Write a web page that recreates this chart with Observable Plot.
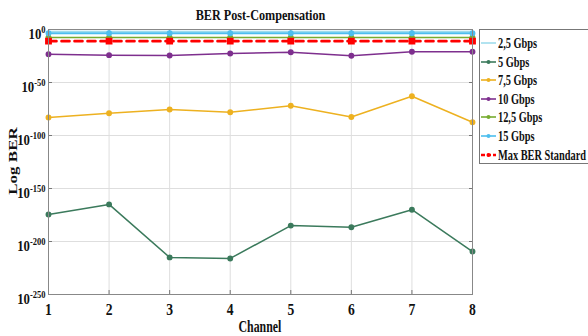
<!DOCTYPE html>
<html>
<head>
<meta charset="utf-8">
<script src="https://cdn.jsdelivr.net/npm/d3@7"></script>
<script src="https://cdn.jsdelivr.net/npm/@observablehq/plot@0.6"></script>
<style>
  html, body { margin: 0; padding: 0; background: #fff; }
  #wrap { position: relative; width: 588px; height: 336px; overflow: hidden; font-family: "Liberation Serif", "Times New Roman", serif; font-weight: bold; color: #111; }
  #wrap > svg { position: absolute; left: 0; top: 0; }
  .sq { display: inline-block; white-space: nowrap; }
  #title { position: absolute; left: 0; width: 520px; top: 8px; text-align: center; font-size: 14px; line-height: 16px; }
  #title .sq { transform: scaleX(0.87); transform-origin: center; }
  #xlabel { position: absolute; left: 0; width: 520px; top: 318px; text-align: center; font-size: 16px; line-height: 18px; }
  #xlabel .sq { transform: scaleX(0.74); transform-origin: center; }
  #ylabel { position: absolute; left: 13px; top: 161px; font-size: 17px; line-height: 18px; transform: translate(-50%, -50%) scaleX(0.78) rotate(-90deg); white-space: nowrap; }
  #legend { position: absolute; left: 479px; top: 29px; width: 130px; height: 133px; border: 1px solid #777; background: #fff; }
  .item { position: absolute; left: 1px; height: 18px; font-size: 15px; line-height: 18px; white-space: nowrap; }
  .item svg { vertical-align: middle; }
  .item .sq { transform: scaleX(0.69); transform-origin: left center; vertical-align: middle; margin-left: 2px; }
</style>
</head>
<body>
<div id="wrap">
  <div id="title"><span class="sq">BER Post-Compensation</span></div>
  <div id="xlabel"><span class="sq">Channel</span></div>
  <div id="ylabel">Log BER</div>
  <div id="legend"></div>
</div>
<script>
const channels = [1, 2, 3, 4, 5, 6, 7, 8];
const seriesNames = ["2,5 Gbps", "5 Gbps", "7,5 Gbps", "10 Gbps", "12,5 Gbps", "15 Gbps", "Max BER Standard"];
const seriesColors = ["#9fdcec", "#3b7a5c", "#EDB120", "#7E2F8E", "#77AC30", "#4DBEEE", "#ff0000"];
// log10(BER) per channel
const ber2_5 = [-2, -2, -2, -2, -2, -2, -2, -2];
const ber5 = [-174.5, -165, -215, -216, -185, -186.5, -170, -209.5];
const ber7_5 = [-83, -79, -75.5, -78, -72, -82.5, -63, -87.5];
const ber10 = [-23.3, -24.2, -24.5, -22.6, -21.4, -24.8, -21, -21];
const ber12_5 = [-7.5, -7.5, -7.5, -7.5, -7.5, -7.5, -7.5, -7.5];
const ber15 = [-3.5, -3.5, -3.5, -3.5, -3.5, -3.5, -3.5, -3.5];
const maxBer = [-11, -11, -11, -11, -11, -11, -11, -11];
const yTicks = [0, -50, -100, -150, -200, -250];

const seriesValues = [ber2_5, ber5, ber7_5, ber10, ber12_5, ber15, maxBer];
const rows = [];
seriesNames.forEach((s, k) => channels.forEach((c, i) => rows.push({series: s, channel: c, logber: seriesValues[k][i]})));

const lineMarks = [];
seriesNames.forEach((s, k) => {
  const d = rows.filter(r => r.series === s);
  const isMax = s === "Max BER Standard";
  lineMarks.push(Plot.line(d, {x: "channel", y: "logber", stroke: "series",
    strokeWidth: isMax ? 2.6 : (s === "15 Gbps" ? 2 : 1.5),
    strokeDasharray: isMax ? "8,5" : null}));
  if (s !== "2,5 Gbps") {
    lineMarks.push(Plot.dot(d, {x: "channel", y: "logber", fill: "series", stroke: "series", r: isMax ? 3 : 2.2, symbol: isMax ? "square" : "circle"}));
  }
});

const chart = Plot.plot({
  width: 588,
  height: 336,
  marginLeft: 48,
  marginRight: 116,
  marginTop: 29,
  marginBottom: 42,
  style: {fontFamily: "'Liberation Serif', 'Times New Roman', serif", fontWeight: "bold", fontSize: "15px", color: "#111", background: "transparent"},
  x: {domain: [1, 8]},
  y: {domain: [-250, 0]},
  color: {domain: seriesNames, range: seriesColors},
  marks: [
    Plot.gridX(channels, {stroke: "#dedede", strokeOpacity: 1}),
    Plot.gridY(yTicks, {stroke: "#dedede", strokeOpacity: 1}),
    Plot.axisX({ticks: channels, tickSize: -4, tickPadding: 13, tickFormat: d => String(d), label: null, stroke: "#777", fontSize: 16}),
    Plot.axisX({anchor: "top", ticks: channels, tickSize: -4, tickFormat: () => "", label: null, stroke: "#777"}),
    Plot.axisY({ticks: yTicks, tickSize: -4, tickPadding: 7, tickFormat: d => String(d), label: null, stroke: "#777", fontSize: 15}),
    Plot.axisY({anchor: "right", ticks: yTicks, tickSize: -4, tickFormat: () => "", label: null, stroke: "#777"}),
    ...lineMarks,
    Plot.frame({stroke: "#888"})
  ]
});
document.getElementById("wrap").prepend(chart);

// superscript exponent tick labels
chart.querySelectorAll('g[aria-label="y-axis tick label"] text').forEach(t => {
  const e = t.textContent.replace("−", "-");
  if (!e) return;
  t.textContent = "";
  const b = document.createElementNS("http://www.w3.org/2000/svg", "tspan");
  b.textContent = "10";
  b.setAttribute("dy", "0.3em");
  const s = document.createElementNS("http://www.w3.org/2000/svg", "tspan");
  s.textContent = e;
  s.setAttribute("dy", "-0.55em");
  s.setAttribute("font-size", "10px");
  t.appendChild(b); t.appendChild(s);
});
// condensed look of the reference lettering
chart.querySelectorAll('g[aria-label="y-axis tick label"] text, g[aria-label="x-axis tick label"] text').forEach(t => {
  const tr = t.getAttribute("transform");
  if (tr) t.setAttribute("transform", tr + " scale(0.85,1)");
});

// legend
const legend = document.getElementById("legend");
seriesNames.forEach((s, k) => {
  const item = document.createElement("div");
  item.className = "item";
  item.style.top = (2.5 + k * 18.6) + "px";
  const isMax = s === "Max BER Standard";
  const sw = d3.create("svg").attr("width", 15).attr("height", 10);
  sw.append("line").attr("x1", 0).attr("x2", 15).attr("y1", 5).attr("y2", 5)
    .attr("stroke", seriesColors[k]).attr("stroke-width", isMax ? 2.4 : 1.6)
    .attr("stroke-dasharray", isMax ? "4,2" : null);
  if (s !== "2,5 Gbps") {
    sw.append("circle").attr("cx", 7.5).attr("cy", 5).attr("r", 2).attr("fill", seriesColors[k]);
  }
  item.appendChild(sw.node());
  const lab = document.createElement("span");
  lab.className = "sq";
  lab.textContent = s;
  item.appendChild(lab);
  legend.appendChild(item);
});
</script>
</body>
</html>
